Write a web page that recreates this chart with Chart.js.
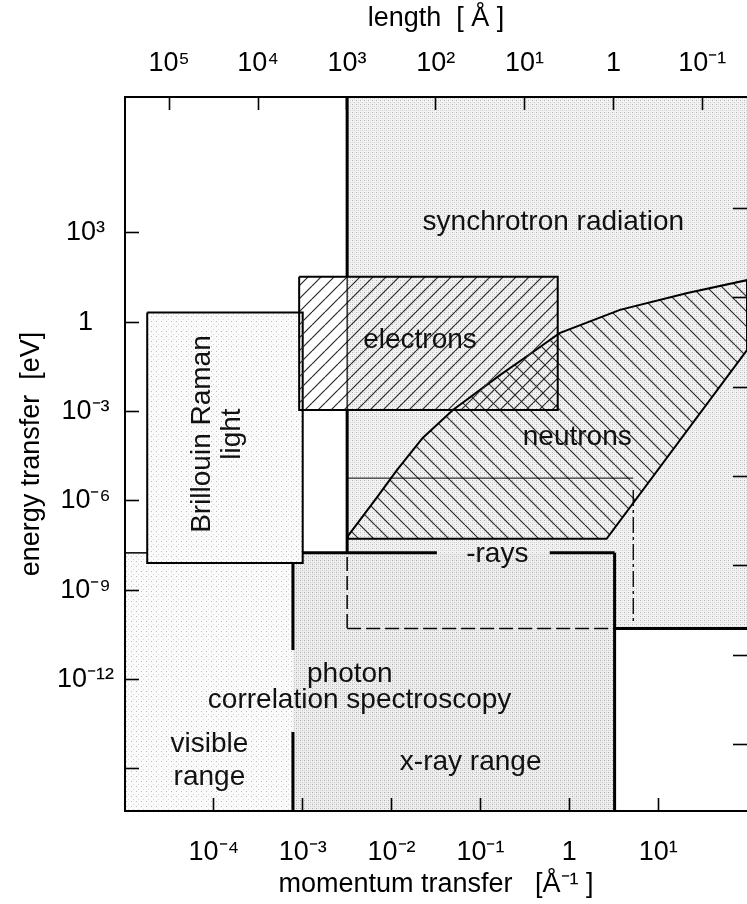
<!DOCTYPE html>
<html>
<head>
<meta charset="utf-8">
<style>
  html, body { margin: 0; padding: 0; background: #fff; overflow: hidden; }
</style>
<script src="https://cdn.jsdelivr.net/npm/chart.js@4.4.1/dist/chart.umd.min.js"></script>
</head>
<body>
<canvas id="chart" width="747" height="904"></canvas>
<script>
const FONT = "'Liberation Sans', Arial, Helvetica, sans-serif";

// axis ranges, log10
const qRangeExp = [-5, 2];          // momentum transfer [1/Å]
const eRangeExp = [-16.42, 7.56];   // energy transfer [eV]
const HBAR = 6.582e-16;             // eV s, right axis ticks are times t = hbar / E

// tick positions (log10) and their labels
const qTickExp = [-4, -3, -2, -1, 0, 1];
const qTickLabels = ['10⁻⁴', '10⁻³', '10⁻²', '10⁻¹', '1', '10¹'];
const lenTickExp = [5, 4, 3, 2, 1, 0, -1];
const lenTickLabels = ['10⁵', '10⁴', '10³', '10²', '10¹', '1', '10⁻¹'];
const eTickExp = [3, 0, -3, -6, -9, -12, -15];
const eTickLabels = ['10³', '1', '10⁻³', '10⁻⁶', '10⁻⁹', '10⁻¹²', ''];
const timeTickExp = [-19, -16, -13, -10, -7, -4, -1];

// regions, log10(q) / log10(E) corner lists
const syncLogQ = [-2.5, 2, 2, 0.51, 0.51, -2.5, -2.5];
const syncLogE = [7.56, 7.56, -10.29, -10.29, -7.75, -7.75, 7.56];
const xrayLogQ = [-3.11, 0.51, 0.51, -3.11, -3.11];
const xrayLogE = [-7.75, -7.75, -16.42, -16.42, -7.75];
const visibleLogQ = [-5, -3.11, -3.11, -5, -5];
const visibleLogE = [-7.75, -7.75, -16.42, -16.42, -7.75];
const brillouinLogQ = [-4.75, -3.0, -3.0, -4.75, -4.75];
const brillouinLogE = [0.32, 0.32, -8.09, -8.09, 0.32];
const electronLogQ = [-3.04, -0.13, -0.13, -3.04, -3.04];
const electronLogE = [1.52, 1.52, -2.95, -2.95, 1.52];
const neutronLogQ = [-2.49, -2.16, -1.94, -1.65, -1.31, -0.78, -0.44, -0.11, 0.57, 1.33, 2.0, 2.0, 0.42, -2.49, -2.49];
const neutronLogE = [-7.18, -5.87, -4.97, -3.89, -2.95, -1.78, -1.07, -0.37, 0.41, 0.98, 1.41, -0.94, -7.28, -7.28, -7.18];

// boundary lines: [logQ pair, logE pair, width, dash]
const boundaryLines = [
  [[-2.5, -2.5], [7.56, 1.52], 3, []],
  [[-2.5, -2.5], [1.52, -2.95], 1.2, []],
  [[-2.5, -2.5], [-2.95, -7.75], 3, []],
  [[-5, -4.75], [-7.75, -7.75], 1.5, []],
  [[-3.0, -1.49], [-7.75, -7.75], 3, []],
  [[-0.22, 0.51], [-7.75, -7.75], 3, []],
  [[0.51, 0.51], [-7.75, -16.42], 3, []],
  [[0.51, 2], [-10.29, -10.29], 3, []],
  [[-3.11, -3.11], [-8.09, -11.01], 3, []],
  [[-3.11, -3.11], [-13.77, -16.42], 3, []],
  [[-2.5, -2.5], [-7.89, -10.29], 1.5, [14, 5]],
  [[-2.5, 0.51], [-10.29, -10.29], 1.5, [14, 5]],
  [[0.72, 0.72], [-5.64, -10.11], 1.3, [16, 4, 3, 4]],
  [[-2.5, 0.72], [-5.24, -5.24], 1, []]
];

// labels inside the plot
const noteText = ['synchrotron radiation', 'electrons', 'neutrons', '-rays', 'photon',
  'correlation spectroscopy', 'visible', 'range', 'x-ray range'];
const noteLogQ = [-0.18, -1.68, 0.09, -0.81, -2.47, -2.36, -4.05, -4.05, -1.11];
const noteLogE = [3.09, -0.87, -4.13, -8.06, -12.09, -12.96, -14.44, -15.55, -15.04];
const sideText = ['Brillouin Raman', 'light'];
const sideLogQ = [-4.04, -3.71];
const sideLogE = [-3.76, -3.76];

const pts = (lq, le) => lq.map((v, i) => ({ x: 10 ** v, y: 10 ** le[i] }));

// fill textures
function dots(size, bg, marks) {
  const c = document.createElement('canvas');
  c.width = size; c.height = size;
  const g = c.getContext('2d');
  g.fillStyle = bg;
  g.fillRect(0, 0, size, size);
  marks.forEach(([x, y, col]) => { g.fillStyle = col; g.fillRect(x, y, 1, 1); });
  return g.createPattern(c, 'repeat');
}
function hatch(size, dir) {
  const c = document.createElement('canvas');
  c.width = size; c.height = size;
  const g = c.getContext('2d');
  g.strokeStyle = '#2a2a2a';
  g.lineWidth = 1.2;
  g.beginPath();
  for (let k = -1; k <= 1; k++) {
    if (dir === '/') { g.moveTo(k * size, size); g.lineTo(k * size + size, 0); }
    else { g.moveTo(k * size, 0); g.lineTo(k * size + size, size); }
  }
  g.stroke();
  return g.createPattern(c, 'repeat');
}
const denseGrey = dots(4, '#f3f3f3', [[0, 0, '#b4b4b4'], [2, 2, '#cdcdcd'], [0, 2, '#dcdcdc'], [2, 0, '#e2e2e2']]);
const xrayGrey = dots(4, '#efefef', [[0, 0, '#ababab'], [2, 2, '#c4c4c4'], [0, 2, '#d6d6d6'], [2, 0, '#d6d6d6']]);
const lightGrey = dots(5, '#fbfbfb', [[1, 1, '#bcbcbc'], [3, 4, '#d8d8d8']]);

const region = (lq, le, fill, border, width, order) => ({
  data: pts(lq, le), showLine: true, fill: 'shape', backgroundColor: fill,
  borderColor: border, borderWidth: width, pointRadius: 0, order
});

const datasets = [
  region(syncLogQ, syncLogE, denseGrey, 'transparent', 1, 30),
  region(xrayLogQ, xrayLogE, xrayGrey, 'transparent', 1, 30),
  region(visibleLogQ, visibleLogE, lightGrey, 'transparent', 1, 30),
  region(brillouinLogQ, brillouinLogE, lightGrey, '#000', 2, 20),
  region(electronLogQ, electronLogE, hatch(13, '/'), '#000', 2, 10),
  region(neutronLogQ, neutronLogE, hatch(15, '\\'), '#000', 2, 10)
];
boundaryLines.forEach(([lq, le, w, dash]) => {
  datasets.push({
    data: pts(lq, le), showLine: true, fill: false, borderColor: '#000',
    borderWidth: w, borderDash: dash, pointRadius: 0, order: 5
  });
});

// text written over the regions
const notesPlugin = {
  id: 'notes',
  afterDatasetsDraw(chart) {
    const { ctx, scales: { x, y } } = chart;
    ctx.save();
    ctx.fillStyle = '#111';
    ctx.font = `28px ${FONT}`;
    ctx.textAlign = 'center';
    ctx.textBaseline = 'alphabetic';
    noteText.forEach((t, i) => {
      ctx.fillText(t, x.getPixelForValue(10 ** noteLogQ[i]), y.getPixelForValue(10 ** noteLogE[i]));
    });
    sideText.forEach((t, i) => {
      ctx.save();
      ctx.translate(x.getPixelForValue(10 ** sideLogQ[i]), y.getPixelForValue(10 ** sideLogE[i]));
      ctx.rotate(-Math.PI / 2);
      ctx.fillText(t, 0, 0);
      ctx.restore();
    });
    ctx.restore();
  }
};

const tickFont = { family: FONT, size: 27 };
const inwardGrid = (len) => ({
  display: true, drawOnChartArea: false, drawTicks: true,
  tickLength: -len, tickWidth: 1.6, tickColor: '#000', z: 1
});
const axisBorder = { display: true, color: '#000', width: 2, z: 1 };
// keep the plot edges fixed, labels are allowed to overhang
const fixHeight = h => s => { s.height = h; s.paddingLeft = 0; s.paddingRight = 0; };

new Chart(document.getElementById('chart'), {
  type: 'scatter',
  data: { datasets },
  options: {
    responsive: false,
    animation: false,
    events: [],
    layout: { padding: 0 },
    plugins: { legend: { display: false }, tooltip: { enabled: false } },
    elements: { line: { tension: 0 } },
    scales: {
      x: {
        type: 'logarithmic', position: 'bottom',
        min: 10 ** qRangeExp[0], max: 10 ** qRangeExp[1],
        afterBuildTicks: s => { s.ticks = qTickExp.map(v => ({ value: 10 ** v })); },
        afterFit: fixHeight(93),
        ticks: { font: tickFont, color: '#000', padding: 38, maxRotation: 0, autoSkip: false,
          callback: (v, i) => qTickLabels[i] },
        grid: inwardGrid(13),
        border: axisBorder,
        title: { display: true, text: 'momentum transfer   [Å⁻¹ ]', font: tickFont, color: '#000',
          padding: { top: 0, bottom: 3 } }
      },
      xTop: {
        type: 'logarithmic', position: 'top', reverse: true,
        min: Math.PI / 10 ** qRangeExp[1], max: Math.PI / 10 ** qRangeExp[0],
        afterBuildTicks: s => { s.ticks = lenTickExp.map(v => ({ value: 10 ** v })); },
        afterFit: fixHeight(97),
        ticks: { font: tickFont, color: '#000', padding: 30, maxRotation: 0, autoSkip: false,
          callback: (v, i) => lenTickLabels[i] },
        grid: inwardGrid(13),
        border: axisBorder,
        title: { display: true, text: 'length  [ Å ]', font: tickFont, color: '#000',
          padding: { top: 2, bottom: 0 } }
      },
      y: {
        type: 'logarithmic', position: 'left',
        min: 10 ** eRangeExp[0], max: 10 ** eRangeExp[1],
        afterBuildTicks: s => { s.ticks = eTickExp.map(v => ({ value: 10 ** v })); },
        afterFit: s => { s.width = 125; },
        ticks: { font: tickFont, color: '#000', padding: 25, crossAlign: 'center', autoSkip: false,
          callback: (v, i) => eTickLabels[i] },
        grid: inwardGrid(14),
        border: axisBorder,
        title: { display: true, text: 'energy transfer  [eV]', font: tickFont, color: '#000',
          padding: { top: 15, bottom: 0 } }
      },
      yRight: {
        type: 'logarithmic', position: 'right',
        min: 10 ** eRangeExp[0], max: 10 ** eRangeExp[1],
        afterBuildTicks: s => { s.ticks = timeTickExp.map(t => ({ value: HBAR / 10 ** t })); },
        afterFit: s => { s.width = 0; },
        ticks: { display: false },
        grid: inwardGrid(14),
        border: { display: false }
      }
    }
  },
  plugins: [notesPlugin]
});
</script>
</body>
</html>
